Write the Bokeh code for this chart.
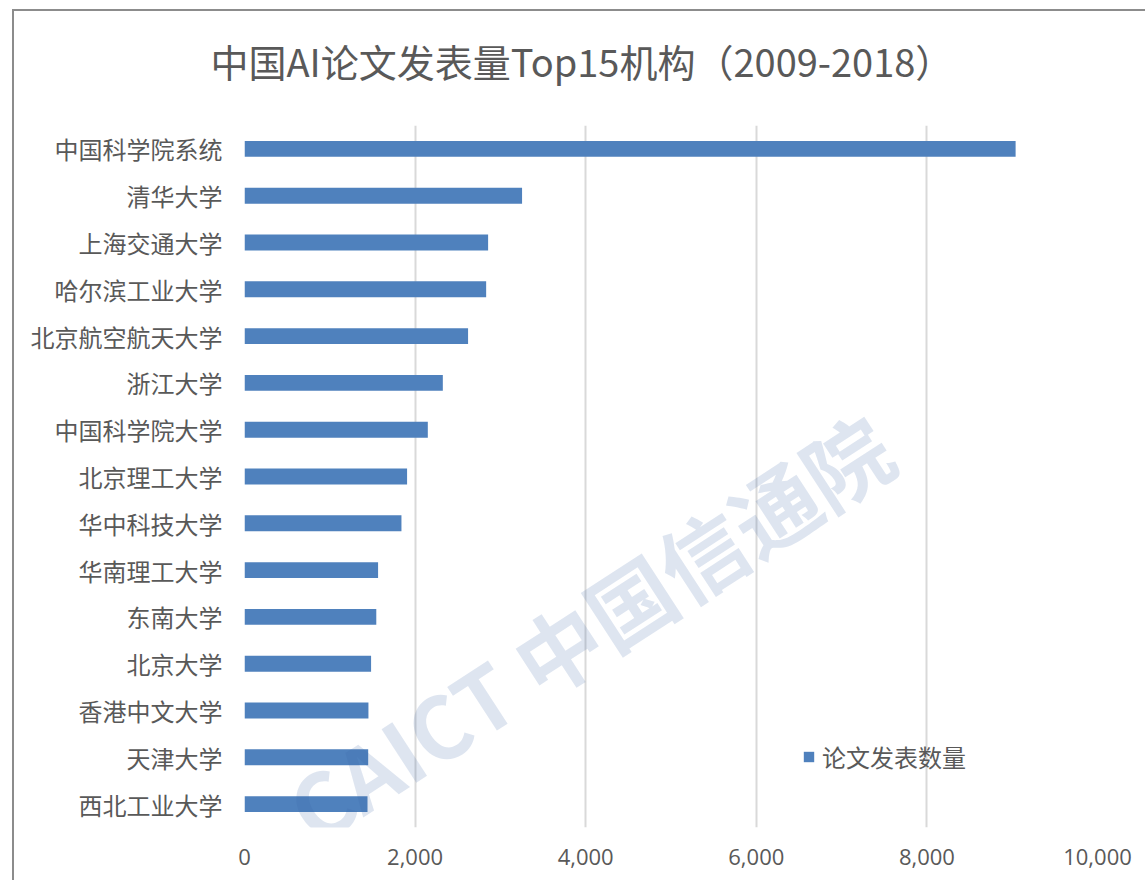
from bokeh.plotting import figure
from bokeh.models import (FactorRange, Range1d, FixedTicker, NumeralTickFormatter,
                          Label, Legend, LegendItem, ColumnDataSource, Title)
from bokeh.embed import file_html
from bokeh.resources import INLINE

# ---- data ----
institutions = ["中国科学院系统", "清华大学", "上海交通大学", "哈尔滨工业大学", "北京航空航天大学",
                "浙江大学", "中国科学院大学", "北京理工大学", "华中科技大学", "华南理工大学",
                "东南大学", "北京大学", "香港中文大学", "天津大学", "西北工业大学"]
papers = [9040, 3254, 2856, 2833, 2621, 2325, 2149, 1906, 1840, 1566, 1545, 1484, 1453, 1450, 1442]
x_ticks = [0, 2000, 4000, 6000, 8000, 10000]
title_text = "中国AI论文发表量Top15机构（2009-2018）"
series_name = "论文发表数量"
watermark_text = "CAICT 中国信通院"

CJK = "Noto Sans CJK SC"
TXT = "#595959"
BAR = "#4F81BD"

src = ColumnDataSource(dict(inst=institutions, n=papers))

p = figure(width=1133, height=871,
           y_range=FactorRange(factors=institutions[::-1]),
           x_range=Range1d(0, 10000),
           output_backend="svg", toolbar_location=None,
           min_border_left=230, min_border_right=50,
           min_border_top=114, min_border_bottom=55)
p.styles = {"margin-left": "12px", "margin-top": "9px",
            "border-left": "2px solid #8c8c8c", "border-top": "2px solid #8c8c8c"}
p.outline_line_color = None
p.background_fill_color = "white"
p.border_fill_color = "white"

r = p.hbar(y="inst", right="n", left=0, height=0.34, source=src,
           fill_color=BAR, line_color=None)

# axes
p.xaxis.ticker = FixedTicker(ticks=x_ticks)
p.xaxis.formatter = NumeralTickFormatter(format="0,0")
p.xaxis.axis_line_color = None
p.xaxis.major_tick_line_color = None
p.xaxis.minor_tick_line_color = None
p.xaxis.major_tick_out = 0
p.xaxis.major_label_standoff = 21
p.xaxis.major_label_text_font = "Open Sans"
p.xaxis.major_label_text_font_size = "22px"
p.xaxis.major_label_text_color = TXT

p.yaxis.axis_line_color = None
p.yaxis.major_tick_line_color = None
p.yaxis.major_tick_out = 0
p.yaxis.major_label_standoff = 22
p.yaxis.major_label_text_font = CJK
p.yaxis.major_label_text_font_size = "24px"
p.yaxis.major_label_text_color = TXT

p.ygrid.grid_line_color = None
p.xgrid.grid_line_color = "#d9d9d9"
p.xgrid.grid_line_width = 2

# title (outer) + spacer between title and frame
p.title.text = title_text
p.title.align = "left"
p.title.offset = -34
p.title.standoff = 0
p.title.text_font = CJK
p.title.text_font_size = "38px"
p.title.text_font_style = "normal"
p.title.text_color = TXT
p.add_layout(Title(text=" ", text_font_size="1px", standoff=35), "above")

# watermark
p.add_layout(Label(x=4033, y=4.3, text=watermark_text, text_align="center",
                   text_baseline="middle", text_font=CJK, text_font_size="86px",
                   text_font_style="bold", angle=33, angle_units="deg",
                   text_color="#3a64a8", text_alpha=0.17))

# legend
leg = Legend(items=[LegendItem(label=series_name, renderers=[r])],
             location=(558, 53), padding=0, margin=0, spacing=0,
             glyph_width=13, glyph_height=13, label_height=13,
             label_standoff=7, label_text_font=CJK, label_text_font_size="24px",
             label_text_color=TXT, border_line_color=None,
             background_fill_alpha=0)
p.add_layout(leg)

open("out.html", "w").write(file_html(p, INLINE))
